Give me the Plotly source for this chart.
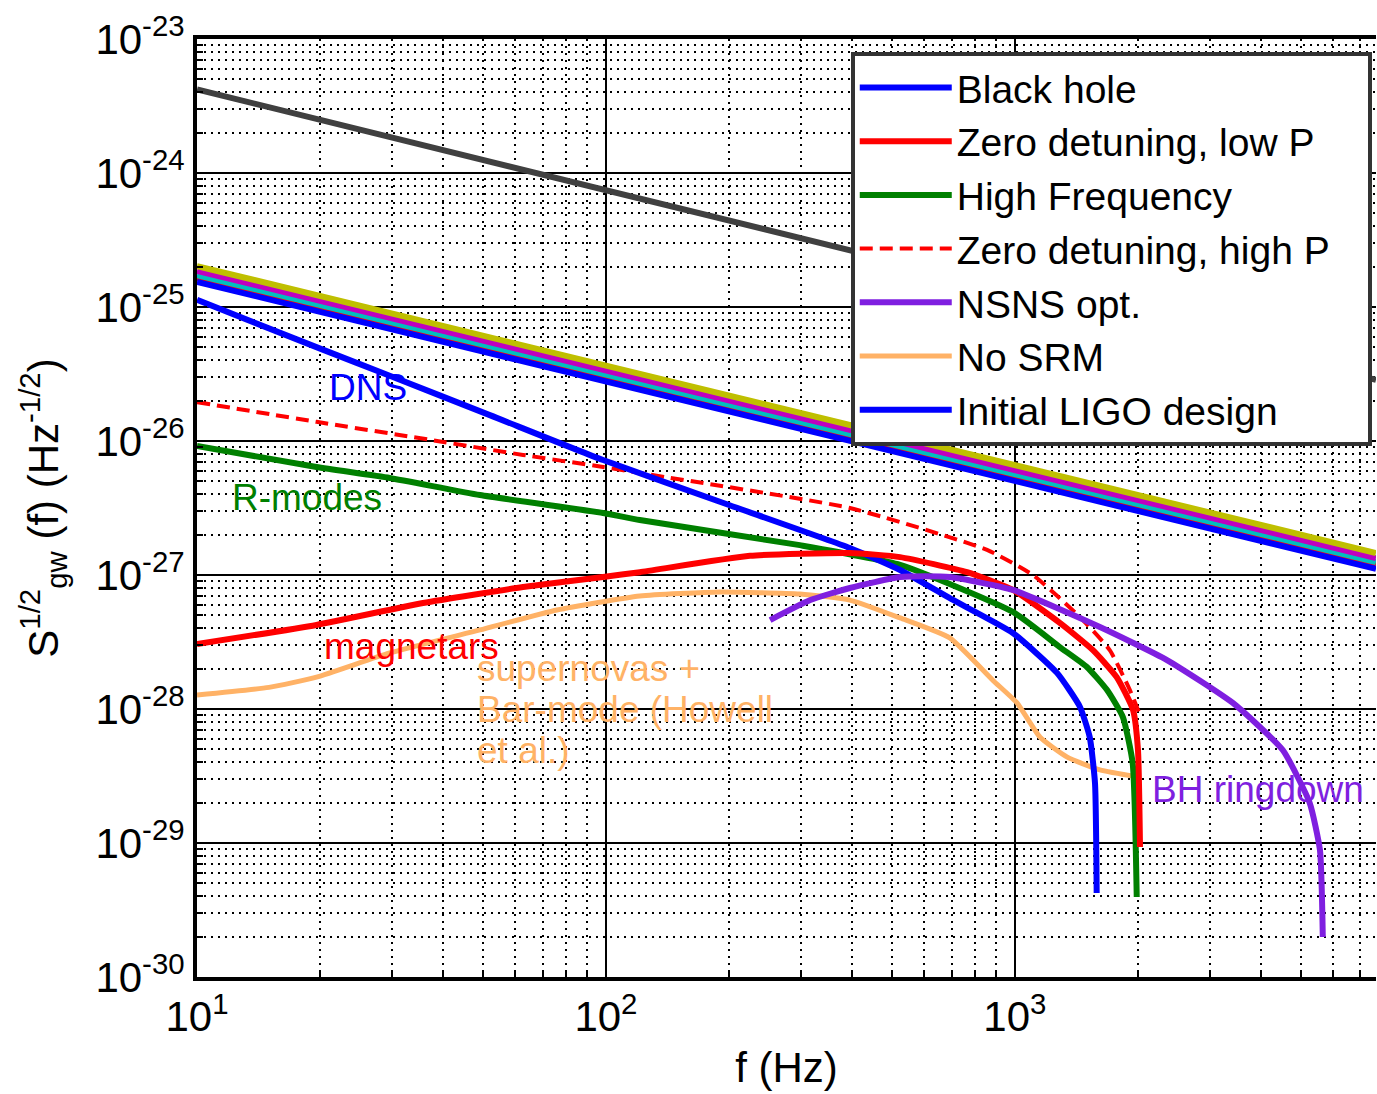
import math
import plotly.graph_objects as go

# ---------------- data ----------------
# Straight reference curves (endpoints)
f_band = [10, 7640]
band_olive = [2.02e-25, 1.46e-27]
band_magenta = [1.86e-25, 1.34e-27]
band_cyan = [1.73e-25, 1.25e-27]
band_red = [1.64e-25, 1.19e-27]
band_blue = [1.54e-25, 1.11e-27]
f_gray = [10, 7640]
gray_vals = [4.2e-24, 2.86e-26]

# DNS (blue) -> "Black hole"
f_dns = [10, 20.3, 29.6, 52.0, 98.4, 200, 395, 524, 700, 989, 1268, 1442, 1524, 1570, 1585]
s_dns = [1.13e-25, 4.81e-26, 3.07e-26, 1.56e-26, 7.21e-27, 3.33e-27, 1.59e-27, 1.09e-27,
         6.60e-28, 3.69e-28, 1.86e-28, 1.04e-28, 6.18e-29, 2.81e-29, 4.24e-30]

# R-modes (green) -> "High Frequency"
f_rmodes = [10, 19.6, 29.6, 49.2, 98.4, 121, 298, 524, 989, 1288, 1500, 1679, 1837, 1941, 1986]
s_rmodes = [9.18e-27, 6.40e-27, 5.30e-27, 3.95e-27, 2.90e-27, 2.57e-27, 1.67e-27, 1.19e-27,
            5.30e-28, 2.90e-28, 2.06e-28, 1.39e-28, 8.71e-29, 3.95e-29, 3.95e-30]

# Zero detuning, high P (red dashed)
f_zdhp = [10, 19.6, 37.2, 62.7, 98.4, 121, 395, 855, 1107, 1442, 1706, 1910, 2023]
s_zdhp = [1.95e-26, 1.39e-26, 1.02e-26, 7.87e-27, 6.40e-27, 5.77e-27, 3.16e-27, 1.54e-27,
          1.0e-27, 4.86e-28, 2.75e-28, 1.39e-28, 9.02e-29]

# magnetars (red) -> "Zero detuning, low P"
f_mag = [10, 19.6, 35.7, 62.7, 98.4, 121, 225, 395, 524, 764, 989, 1288, 1552, 1774, 1945, 2000, 2023]
s_mag = [3.05e-28, 4.24e-28, 6.18e-28, 8.13e-28, 9.66e-28, 1.05e-27, 1.39e-27, 1.46e-27,
         1.36e-27, 1.05e-27, 7.73e-28, 4.39e-28, 2.75e-28, 1.73e-28, 9.84e-29, 4.94e-29, 9.33e-30]

# supernovas + bar-mode (orange) -> "No SRM"
f_sn = [10, 15, 19.6, 29.6, 49.2, 75.9, 121, 190, 298, 395, 524, 693, 883, 1012, 1151, 1340, 1614, 2000]
s_sn = [1.27e-28, 1.45e-28, 1.73e-28, 2.62e-28, 3.89e-28, 5.48e-28, 6.97e-28, 7.46e-28, 7.21e-28,
        6.50e-28, 4.78e-28, 3.39e-28, 1.64e-28, 1.11e-28, 6.18e-29, 4.39e-29, 3.51e-29, 3.11e-29]

# BH ringdown (purple) -> "NSNS opt."
f_bh = [252, 316, 395, 524, 693, 989, 1614, 2355, 3412, 4519, 5260, 5572, 5662]
s_bh = [4.61e-28, 6.50e-28, 8.00e-28, 9.66e-28, 9.66e-28, 7.73e-28, 4.09e-28, 2.32e-28,
        1.11e-28, 4.94e-29, 1.99e-29, 8.87e-30, 1.99e-30]

legend_names = ["Black hole", "Zero detuning, low P", "High Frequency",
                "Zero detuning, high P", "NSNS opt.", "No SRM", "Initial LIGO design"]

x_tickvals = [10, 100, 1000]
x_ticktext = ["10<sup>1</sup>", "10<sup>2</sup>", "10<sup>3</sup>"]
y_exps = [-30, -29, -28, -27, -26, -25, -24, -23]
y_tickvals = [10.0 ** e for e in y_exps]
y_ticktext = ["10<sup>%d</sup>" % e for e in y_exps]

# ---------------- styling ----------------
FONT = "Arial, Liberation Sans, sans-serif"
BLUE = "#0000FF"
RED = "#FF0000"
GREEN = "#008000"
PURPLE = "#7F1FE0"
ORANGE = "#FFB266"
LW = 6
SM = 0.5
PAD = "\u00a0\u00a0\u00a0"  # widens the legend box to the reference width

fig = go.Figure()

# band of straight curves
fig.add_trace(go.Scatter(x=f_band, y=band_red, mode="lines", line=dict(color=RED, width=LW), showlegend=False))
fig.add_trace(go.Scatter(x=f_band, y=band_blue, mode="lines", line=dict(color=BLUE, width=LW),
                         name=legend_names[6], legendrank=7))
fig.add_trace(go.Scatter(x=f_band, y=band_cyan, mode="lines", line=dict(color="#00BFBF", width=LW), showlegend=False))
fig.add_trace(go.Scatter(x=f_band, y=band_magenta, mode="lines", line=dict(color="#BF00BF", width=LW), showlegend=False))
fig.add_trace(go.Scatter(x=f_band, y=band_olive, mode="lines", line=dict(color="#BFBF00", width=LW), showlegend=False))
fig.add_trace(go.Scatter(x=f_gray, y=gray_vals, mode="lines", line=dict(color="#404040", width=LW), showlegend=False))

fig.add_trace(go.Scatter(x=f_sn, y=s_sn, mode="lines",
                         line=dict(color=ORANGE, width=5, shape="spline", smoothing=SM),
                         name=legend_names[5], legendrank=6))
fig.add_trace(go.Scatter(x=f_zdhp, y=s_zdhp, mode="lines",
                         line=dict(color=RED, width=4, dash="13px,7px", shape="spline", smoothing=SM),
                         name=legend_names[3] + PAD, legendrank=4))
fig.add_trace(go.Scatter(x=f_rmodes, y=s_rmodes, mode="lines",
                         line=dict(color=GREEN, width=LW, shape="spline", smoothing=SM),
                         name=legend_names[2], legendrank=3))
fig.add_trace(go.Scatter(x=f_dns, y=s_dns, mode="lines",
                         line=dict(color=BLUE, width=LW, shape="spline", smoothing=SM),
                         name=legend_names[0], legendrank=1))
fig.add_trace(go.Scatter(x=f_mag, y=s_mag, mode="lines",
                         line=dict(color=RED, width=LW, shape="spline", smoothing=SM),
                         name=legend_names[1], legendrank=2))
fig.add_trace(go.Scatter(x=f_bh, y=s_bh, mode="lines",
                         line=dict(color=PURPLE, width=LW, shape="spline", smoothing=SM),
                         name=legend_names[4], legendrank=5))

minor_x = [m * 10 ** e for e in range(1, 4) for m in range(2, 10)]
minor_y = [m * 10.0 ** e for e in range(-30, -23) for m in range(2, 10)]

fig.update_xaxes(
    type="log", range=[1, math.log10(7640)],
    tickmode="array", tickvals=x_tickvals, ticktext=x_ticktext,
    tickfont=dict(family=FONT, size=42, color="black"),
    ticks="inside", ticklen=10, tickwidth=2, tickcolor="black",
    showgrid=True, gridcolor="black", gridwidth=2,
    showline=True, linecolor="black", linewidth=4, mirror=True,
    zeroline=False,
    minor=dict(tickmode="array", tickvals=minor_x, ticks="inside", ticklen=6, tickwidth=2,
               tickcolor="black", showgrid=True, gridcolor="black", gridwidth=1.5, griddash="2px,5px"),
    title=dict(text="f (Hz)", font=dict(family=FONT, size=42, color="black"), standoff=14),
)
fig.update_yaxes(
    type="log", range=[-30, -23],
    tickmode="array", tickvals=y_tickvals, ticktext=y_ticktext,
    tickfont=dict(family=FONT, size=42, color="black"),
    ticks="inside", ticklen=10, tickwidth=2, tickcolor="black",
    showgrid=True, gridcolor="black", gridwidth=2,
    showline=True, linecolor="black", linewidth=4, mirror=False,
    zeroline=False,
    minor=dict(tickmode="array", tickvals=minor_y, ticks="inside", ticklen=6, tickwidth=2,
               tickcolor="black", showgrid=True, gridcolor="black", gridwidth=1.5, griddash="2px,5px"),
    title=dict(text="S<sup>1/2</sup><sub>gw</sub> (f) (Hz<sup>-1/2</sup>)",
               font=dict(family=FONT, size=42, color="black"), standoff=25),
)

ann_font = 37
annotations = [
    dict(text="DNS", x=math.log10(20.8), y=-25.604, color=BLUE),
    dict(text="R-modes", x=math.log10(12.05), y=-26.425, color=GREEN),
    dict(text="magnetars", x=math.log10(20.2), y=-27.537, color=RED),
    dict(text="supernovas +", x=math.log10(47.9), y=-27.694, color=ORANGE),
    dict(text="Bar-mode (Howell", x=math.log10(47.9), y=-28.007, color=ORANGE),
    dict(text="et al.)", x=math.log10(47.9), y=-28.306, color=ORANGE),
    dict(text="BH ringdown", x=math.log10(2138), y=-28.604, color=PURPLE),
]
for a in annotations:
    fig.add_annotation(x=a["x"], y=a["y"], xref="x", yref="y", text=a["text"], showarrow=False,
                       xanchor="left", yanchor="middle", align="left",
                       font=dict(family=FONT, size=ann_font, color=a["color"]))

fig.update_layout(
    width=1377, height=1094,
    margin=dict(l=197, r=1, t=39, b=117, autoexpand=False),
    paper_bgcolor="white", plot_bgcolor="white",
    showlegend=True,
    legend=dict(x=0.5545, y=0.9865, xanchor="left", yanchor="top",
                bgcolor="white", bordercolor="#333333", borderwidth=4,
                font=dict(family=FONT, size=39, color="black"),
                itemwidth=92, traceorder="normal", tracegroupgap=0),
)

fig.write_html("out.html")
